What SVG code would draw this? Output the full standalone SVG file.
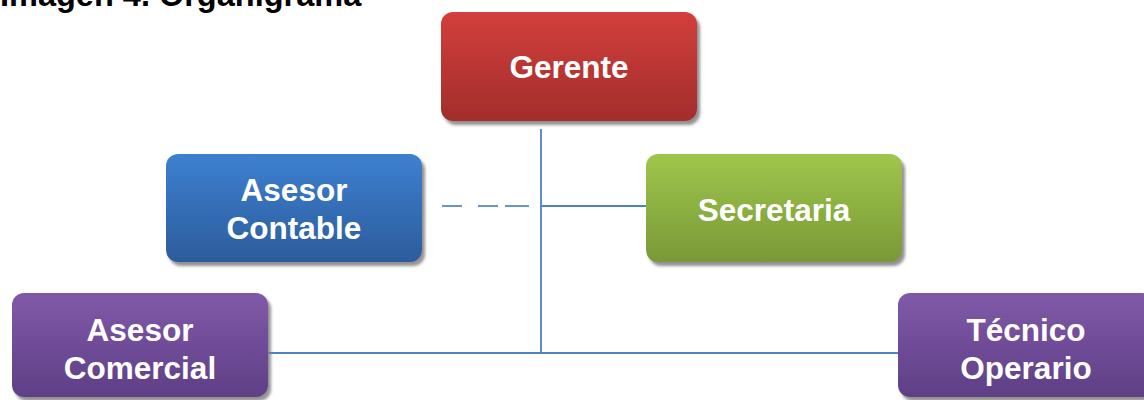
<svg xmlns="http://www.w3.org/2000/svg" width="1144" height="400" viewBox="0 0 1144 400">
<style>
.lbl{font-family:"Liberation Sans",Arial,sans-serif;font-weight:bold;font-size:31.5px;fill:#ffffff;text-anchor:middle}
.title{font-family:"Liberation Sans",Arial,sans-serif;font-weight:bold;font-size:32.5px;fill:#000000}
.con{stroke:#4f81bd;stroke-width:1.8;fill:none}
</style>
<defs>
<filter id="sh" x="-10%" y="-10%" width="125%" height="130%">
<feDropShadow dx="3" dy="4" stdDeviation="1.4" flood-color="#7f7f7f" flood-opacity="0.85"/>
</filter>
<linearGradient id="gRed" x1="0" y1="0" x2="0" y2="1"><stop offset="0" stop-color="#d33f3c"/><stop offset="1" stop-color="#a22d2b"/></linearGradient>
<linearGradient id="gBlue" x1="0" y1="0" x2="0" y2="1"><stop offset="0" stop-color="#3d80d0"/><stop offset="1" stop-color="#2c5c9c"/></linearGradient>
<linearGradient id="gGreen" x1="0" y1="0" x2="0" y2="1"><stop offset="0" stop-color="#9fc64c"/><stop offset="1" stop-color="#799937"/></linearGradient>
<linearGradient id="gPurple" x1="0" y1="0" x2="0" y2="1"><stop offset="0" stop-color="#8159a9"/><stop offset="1" stop-color="#5e3f85"/></linearGradient>
</defs>
<rect width="1144" height="400" fill="#ffffff"/>
<text class="title" x="0" y="6">Imagen 4. Organigrama</text>
<g id="connectors">
<line class="con" x1="541" y1="129" x2="541" y2="353"/>
<line class="con" x1="541" y1="206" x2="646" y2="206"/>
<line class="con" x1="268" y1="353" x2="898" y2="353"/>
<line class="con" x1="442" y1="206" x2="529" y2="206" stroke-width="1.3" stroke-dasharray="20 16 20 7 24" opacity="0.85"/>
</g>
<g id="gerente">
<rect x="441" y="12" width="256" height="109" rx="12" fill="url(#gRed)" filter="url(#sh)"/>
<text class="lbl" x="569" y="78">Gerente</text>
</g>
<g id="asesor-contable">
<rect x="166" y="154" width="256" height="108" rx="12" fill="url(#gBlue)" filter="url(#sh)"/>
<text class="lbl" x="294" y="201">Asesor</text>
<text class="lbl" x="294" y="239">Contable</text>
</g>
<g id="secretaria">
<rect x="646" y="154" width="256" height="108" rx="12" fill="url(#gGreen)" filter="url(#sh)"/>
<text class="lbl" x="774" y="221">Secretaria</text>
</g>
<g id="asesor-comercial">
<rect x="12" y="293" width="256" height="104" rx="12" fill="url(#gPurple)" filter="url(#sh)"/>
<text class="lbl" x="140" y="341">Asesor</text>
<text class="lbl" x="140" y="379">Comercial</text>
</g>
<g id="tecnico-operario">
<rect x="898" y="293" width="256" height="104" rx="12" fill="url(#gPurple)" filter="url(#sh)"/>
<text class="lbl" x="1026" y="341">Técnico</text>
<text class="lbl" x="1026" y="379">Operario</text>
</g>
</svg>
